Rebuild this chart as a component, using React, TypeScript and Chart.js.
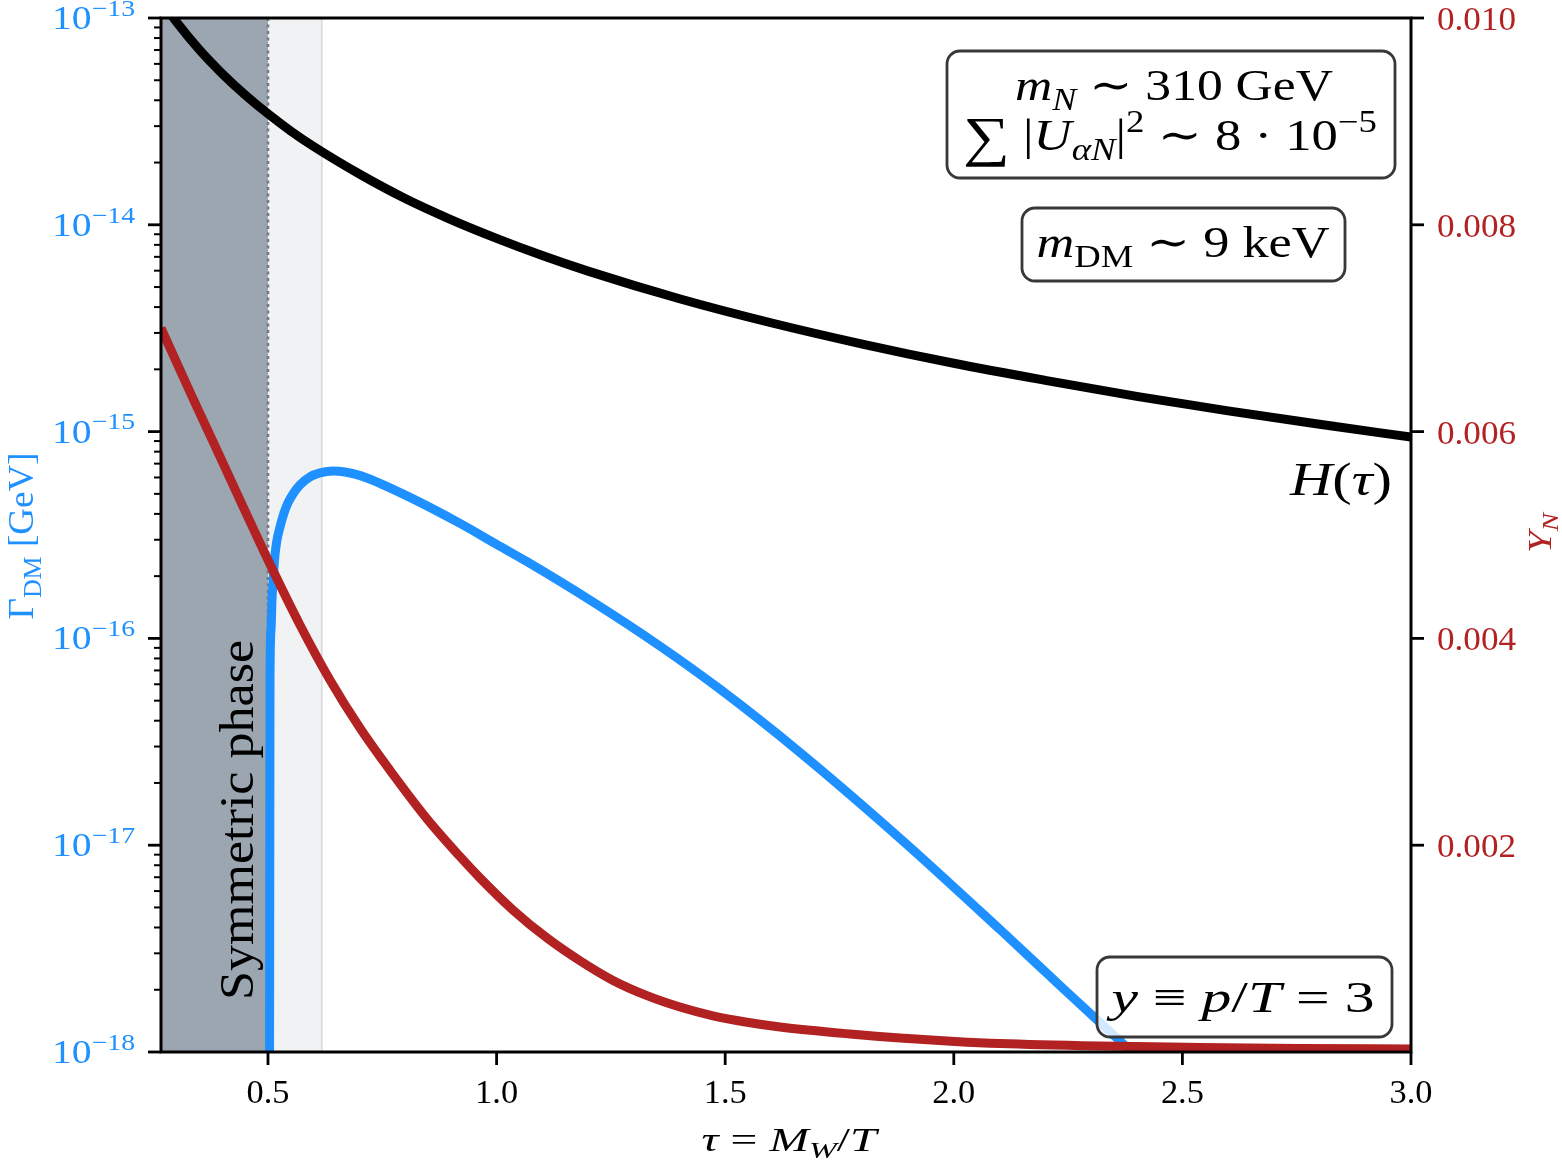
import React, { useEffect, useRef } from 'react';
import { Chart, registerables } from 'chart.js';

Chart.register(...registerables);

// ---------- axis ranges ----------
const X_MIN = 0.266;
const X_MAX = 3.0;
const GAMMA_MIN = 1e-18;
const GAMMA_MAX = 1e-13;
const YN_MIN = 0;
const YN_MAX = 0.01;

// ---------- data ----------
// Hubble rate H(tau) [GeV], left (log) axis
const hTau = [0.26, 0.3, 0.35, 0.4, 0.45, 0.5, 0.55, 0.6, 0.7, 0.8, 0.9, 1.0, 1.1, 1.2, 1.4, 1.6, 1.8, 2.0, 2.2, 2.4, 2.6, 2.8, 3.0];
const hubbleRate = [1.27e-13, 9.56e-14, 7.02e-14, 5.38e-14, 4.25e-14, 3.44e-14, 2.84e-14, 2.39e-14, 1.76e-14, 1.34e-14, 1.06e-14, 8.6e-15, 7.1e-15, 5.97e-15, 4.39e-15, 3.36e-15, 2.65e-15, 2.14e-15, 1.77e-15, 1.48e-15, 1.26e-15, 1.085e-15, 9.4e-16];

// DM production rate Gamma_DM [GeV], left (log) axis
const gammaTau = [0.503, 0.5044, 0.5066, 0.5088, 0.512, 0.5153, 0.5197, 0.5263, 0.535, 0.5437, 0.5547, 0.57, 0.5919, 0.6137, 0.6422, 0.6684, 0.6925, 0.7165, 0.8106, 0.92, 1.0, 1.0665, 1.2109, 1.3574, 1.4886, 1.6636, 1.8823, 2.1011, 2.2432, 2.3854, 2.4291];
const gammaDM = [1e-19, 6.3e-17, 1.1e-16, 1.54e-16, 2.03e-16, 2.53e-16, 2.99e-16, 3.46e-16, 4.04e-16, 4.52e-16, 4.99e-16, 5.52e-16, 6.04e-16, 6.31e-16, 6.45e-16, 6.38e-16, 6.21e-16, 5.97e-16, 4.81e-16, 3.6e-16, 2.85e-16, 2.35e-16, 1.5e-16, 9.18e-17, 5.68e-17, 2.81e-17, 1.08e-17, 3.91e-18, 1.99e-18, 1.02e-18, 8.3e-19];

// Sterile-neutrino abundance Y_N, right (linear) axis
const ynTau = [0.266, 0.3294, 0.3841, 0.4388, 0.5, 0.57, 0.6356, 0.7012, 0.7734, 0.8478, 0.9199, 0.9637, 1.0359, 1.1102, 1.1824, 1.2546, 1.329, 1.4011, 1.4733, 1.5477, 1.6199, 1.773, 1.8823, 2.0026, 2.101, 2.3198, 2.5385, 2.7572, 3.0];
const yieldN = [0.007002, 0.006383, 0.005861, 0.005338, 0.004758, 0.00413, 0.003598, 0.003133, 0.002685, 0.002255, 0.001890, 0.001683, 0.001373, 0.001103, 0.000882, 0.000692, 0.000545, 0.000435, 0.000350, 0.000288, 0.000242, 0.000174, 0.000135, 0.000102, 0.000082, 0.000058, 0.000044, 0.000034, 0.000029];

// ---------- ticks ----------
const xTickValues = [0.5, 1.0, 1.5, 2.0, 2.5, 3.0];
const xTickLabels = ['0.5', '1.0', '1.5', '2.0', '2.5', '3.0'];
const leftTickExponents = [-13, -14, -15, -16, -17, -18];
const rightTickValues = [0.002, 0.004, 0.006, 0.008, 0.01];
const rightTickLabels = ['0.002', '0.004', '0.006', '0.008', '0.010'];

// ---------- shaded regions ----------
const symmetricPhaseEnd = 0.5;
const crossoverEnd = 0.618;

// ---------- colours ----------
const BLUE = '#1e90ff';
const RED = '#b22222';
const SERIF = '"Liberation Serif", "DejaVu Serif", serif';

type Seg = { t: string; it?: boolean; sub?: boolean; sup?: boolean; sc?: number; dy?: number };

const boxLine1: Seg[] = [{ t: 'm', it: true }, { t: 'N', it: true, sub: true }, { t: ' ∼ 310 GeV' }];
const boxLine2: Seg[] = [
  { t: '∑', sc: 1.25, dy: 5 }, { t: ' |' }, { t: 'U', it: true }, { t: 'αN', it: true, sub: true }, { t: '|' },
  { t: '2', sup: true }, { t: ' ∼ 8 · 10' }, { t: '−5', sup: true },
];
const boxDM: Seg[] = [{ t: 'm', it: true }, { t: 'DM', sub: true }, { t: ' ∼ 9 keV' }];
const boxY: Seg[] = [{ t: 'y', it: true }, { t: ' ≡ ' }, { t: 'p', it: true }, { t: '/' }, { t: 'T', it: true }, { t: ' = 3' }];
const hLabel: Seg[] = [{ t: 'H', it: true }, { t: '(' }, { t: 'τ', it: true }, { t: ')' }];
const xTitle: Seg[] = [{ t: 'τ', it: true }, { t: ' = ' }, { t: 'M', it: true }, { t: 'W', it: true, sub: true }, { t: '/' }, { t: 'T', it: true }];
const leftTitle: Seg[] = [{ t: 'Γ' }, { t: 'DM', sub: true }, { t: ' [GeV]' }];
const rightTitle: Seg[] = [{ t: 'Y', it: true }, { t: 'N', it: true, sub: true }];
const phaseLabel = 'Symmetric phase';

function segFont(s: Seg, size: number) {
  const px = size * (s.sub || s.sup ? 0.7 : 1) * (s.sc ?? 1);
  return `${s.it ? 'italic ' : ''}${px}px ${SERIF}`;
}
function richWidth(ctx: CanvasRenderingContext2D, segs: Seg[], size: number) {
  let w = 0;
  for (const s of segs) {
    ctx.font = segFont(s, size);
    w += ctx.measureText(s.t).width;
  }
  return w;
}
function drawRich(
  ctx: CanvasRenderingContext2D, segs: Seg[], x: number, y: number, size: number,
  align: 'left' | 'center' | 'right', color: string, target?: number,
) {
  const w = richWidth(ctx, segs, size);
  const sx = target ? target / w : 1;
  ctx.save();
  ctx.translate(x, y);
  ctx.scale(sx, 1);
  let cx = align === 'center' ? -w / 2 : align === 'right' ? -w : 0;
  ctx.fillStyle = color;
  ctx.textAlign = 'left';
  ctx.textBaseline = 'alphabetic';
  for (const s of segs) {
    ctx.font = segFont(s, size);
    const dy = (s.sub ? size * 0.22 : s.sup ? -size * 0.4 : 0) + (s.dy ?? 0);
    ctx.fillText(s.t, cx, dy);
    cx += ctx.measureText(s.t).width;
  }
  ctx.restore();
}
function roundBox(ctx: CanvasRenderingContext2D, x0: number, y0: number, x1: number, y1: number) {
  ctx.save();
  ctx.beginPath();
  ctx.roundRect(x0, y0, x1 - x0, y1 - y0, 13);
  ctx.fillStyle = 'rgba(255,255,255,0.8)';
  ctx.fill();
  ctx.lineWidth = 2.8;
  ctx.strokeStyle = '#383838';
  ctx.stroke();
  ctx.restore();
}

const decorPlugin = {
  id: 'decor',
  beforeDatasetsDraw(chart: any) {
    const { ctx, chartArea: ca, scales } = chart;
    const xs = scales.x;
    const xa = xs.getPixelForValue(symmetricPhaseEnd);
    const xb = xs.getPixelForValue(crossoverEnd);
    const h = ca.bottom - ca.top;
    ctx.save();
    ctx.fillStyle = 'rgba(112,128,144,0.7)';
    ctx.fillRect(ca.left, ca.top, xa - ca.left, h);
    ctx.fillStyle = 'rgba(112,128,144,0.1)';
    ctx.fillRect(xa, ca.top, xb - xa, h);
    ctx.strokeStyle = 'rgba(112,128,144,0.2)';
    ctx.lineWidth = 2;
    ctx.beginPath();
    ctx.moveTo(xb, ca.top);
    ctx.lineTo(xb, ca.bottom);
    ctx.stroke();
    ctx.strokeStyle = 'rgba(112,124,138,1)';
    ctx.lineWidth = 2.6;
    ctx.setLineDash([3, 3.5]);
    ctx.beginPath();
    ctx.moveTo(xa, ca.top);
    ctx.lineTo(xa, ca.bottom);
    ctx.stroke();
    ctx.setLineDash([]);
    // rotated phase label
    ctx.translate(253, 820);
    ctx.rotate(-Math.PI / 2);
    drawRich(ctx, [{ t: phaseLabel }], 0, 0, 48, 'center', '#000', 360);
    ctx.restore();
  },
  afterDatasetsDraw(chart: any) {
    const { ctx, chartArea: ca, scales } = chart;
    const xs = scales.x;
    const yl = scales.yL;
    const yr = scales.yR;

    // annotation boxes
    roundBox(ctx, 947, 51, 1395, 178);
    drawRich(ctx, boxLine1, 1174, 100, 44, 'center', '#000', 318);
    drawRich(ctx, boxLine2, 1170, 150, 44, 'center', '#000', 414);
    roundBox(ctx, 1022, 208, 1345, 281);
    drawRich(ctx, boxDM, 1183, 257, 44, 'center', '#000', 293);
    roundBox(ctx, 1097, 957, 1392, 1037);
    drawRich(ctx, boxY, 1243, 1012, 44, 'center', '#000', 263);
    drawRich(ctx, hLabel, 1392, 495, 46, 'right', '#000', 102);

    ctx.save();
    // frame
    ctx.strokeStyle = '#000';
    ctx.lineWidth = 3;
    ctx.strokeRect(ca.left, ca.top, ca.right - ca.left, ca.bottom - ca.top);

    // x ticks
    ctx.lineWidth = 2.8;
    xTickValues.forEach((v, i) => {
      const px = xs.getPixelForValue(v);
      ctx.beginPath();
      ctx.moveTo(px, ca.bottom);
      ctx.lineTo(px, ca.bottom + 13);
      ctx.stroke();
      drawRich(ctx, [{ t: xTickLabels[i] }], px, ca.bottom + 51, 33, 'center', '#000', 43);
    });

    // left log ticks
    leftTickExponents.forEach((e) => {
      const py = yl.getPixelForValue(Math.pow(10, e));
      ctx.lineWidth = 2.8;
      ctx.beginPath();
      ctx.moveTo(ca.left - 13, py);
      ctx.lineTo(ca.left, py);
      ctx.stroke();
      drawRich(ctx, [{ t: '10' }, { t: '−' + String(-e), sup: true }], ca.left - 26, py + 11, 33, 'right', BLUE, 83);
      for (let m = 2; m <= 9; m++) {
        const v = m * Math.pow(10, e);
        if (v > GAMMA_MAX) continue;
        const pm = yl.getPixelForValue(v);
        ctx.lineWidth = 2;
        ctx.beginPath();
        ctx.moveTo(ca.left - 7, pm);
        ctx.lineTo(ca.left, pm);
        ctx.stroke();
      }
    });

    // right linear ticks
    rightTickValues.forEach((v, i) => {
      const py = yr.getPixelForValue(v);
      ctx.lineWidth = 2.8;
      ctx.beginPath();
      ctx.moveTo(ca.right, py);
      ctx.lineTo(ca.right + 13, py);
      ctx.stroke();
      drawRich(ctx, [{ t: rightTickLabels[i] }], ca.right + 26, py + 12, 33, 'left', RED, 79);
    });
    ctx.restore();

    // axis titles
    drawRich(ctx, xTitle, (ca.left + ca.right) / 2 + 3, 1151, 33, 'center', '#000', 175);
    ctx.save();
    ctx.translate(33, (ca.top + ca.bottom) / 2 + 1);
    ctx.rotate(-Math.PI / 2);
    drawRich(ctx, leftTitle, 0, 0, 36, 'center', BLUE, 167);
    ctx.restore();
    ctx.save();
    ctx.translate(1551, (ca.top + ca.bottom) / 2 - 2);
    ctx.rotate(-Math.PI / 2);
    drawRich(ctx, rightTitle, 0, 0, 33, 'center', RED, 40);
    ctx.restore();
  },
};

export default function App() {
  const ref = useRef<HTMLCanvasElement>(null);
  useEffect(() => {
    const prev = document.body.style.margin;
    document.body.style.margin = '0';
    const canvas = ref.current!;
    const common = {
      borderWidth: 9,
      pointRadius: 0,
      cubicInterpolationMode: 'monotone',
      borderJoinStyle: 'round',
      clip: 0,
    };
    const chart = new Chart(canvas, {
      type: 'line',
      data: {
        datasets: [
          {
            ...common,
            label: 'H',
            data: hTau.map((t, i) => ({ x: t, y: hubbleRate[i] })),
            yAxisID: 'yL',
            borderColor: '#000',
            order: 2,
          },
          {
            ...common,
            label: 'Gamma_DM',
            data: gammaTau.map((t, i) => ({ x: t, y: gammaDM[i] })),
            yAxisID: 'yL',
            borderColor: BLUE,
            order: 1,
          },
          {
            ...common,
            label: 'Y_N',
            data: ynTau.map((t, i) => ({ x: t, y: yieldN[i] })),
            yAxisID: 'yR',
            borderColor: RED,
            order: 0,
          },
        ] as any,
      },
      options: {
        responsive: false,
        animation: false,
        events: [],
        layout: { padding: { top: 18, left: 0, right: 0, bottom: 0 } },
        plugins: { legend: { display: false }, tooltip: { enabled: false } },
        scales: {
          x: {
            type: 'linear',
            min: X_MIN,
            max: X_MAX,
            grid: { display: false },
            border: { display: false },
            ticks: { display: false },
            afterBuildTicks: (s: any) => { s.ticks = xTickValues.map((v) => ({ value: v })); },
            afterFit: (s: any) => { s.height = 108; },
          },
          yL: {
            type: 'logarithmic',
            position: 'left',
            min: GAMMA_MIN,
            max: GAMMA_MAX,
            grid: { display: false },
            border: { display: false },
            ticks: { display: false },
            afterBuildTicks: (s: any) => { s.ticks = leftTickExponents.map((e) => ({ value: Math.pow(10, e) })); },
            afterFit: (s: any) => { s.width = 161; },
          },
          yR: {
            type: 'linear',
            position: 'right',
            min: YN_MIN,
            max: YN_MAX,
            grid: { display: false },
            border: { display: false },
            ticks: { display: false },
            afterBuildTicks: (s: any) => { s.ticks = rightTickValues.map((v) => ({ value: v })); },
            afterFit: (s: any) => { s.width = 151; },
          },
        },
      } as any,
      plugins: [decorPlugin],
    });
    return () => {
      chart.destroy();
      document.body.style.margin = prev;
    };
  }, []);
  return (
    <canvas
      ref={ref}
      width={1562}
      height={1160}
      style={{ display: 'block', width: 1562, height: 1160 }}
    />
  );
}
